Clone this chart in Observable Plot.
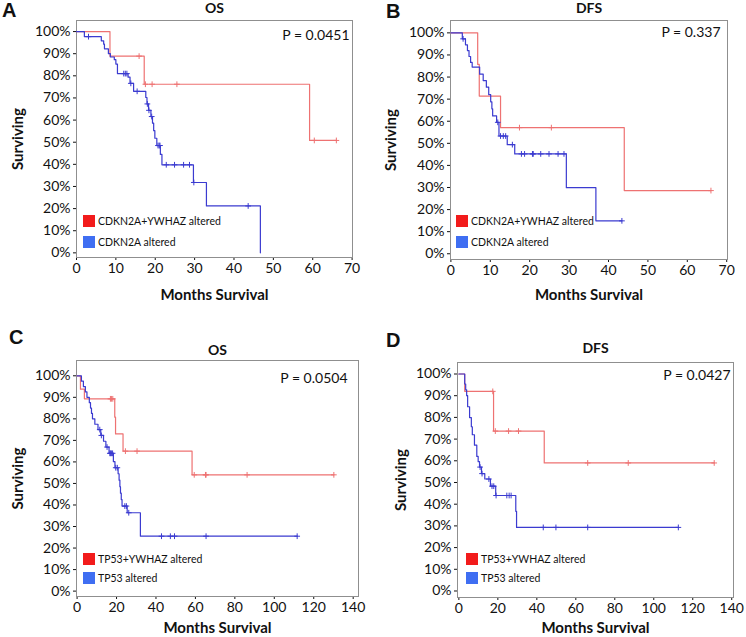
<!DOCTYPE html>
<html><head><meta charset="utf-8">
<script src="https://cdn.jsdelivr.net/npm/d3@7"></script>
<script src="https://cdn.jsdelivr.net/npm/@observablehq/plot@0.6"></script>
<style>
body{margin:0;background:#fff;}
#fig{position:relative;width:746px;height:637px;font-family:Lato,sans-serif;color:#111;overflow:hidden;}
.panel{position:absolute;}
.letter{position:absolute;font:bold 20px "Liberation Sans",Arial,sans-serif;line-height:20px;}
.sw{position:absolute;width:12px;height:12px;}
.lt{position:absolute;font:10.5px Lato,sans-serif;line-height:12px;white-space:nowrap;}
</style></head><body><div id="fig"></div>
<script>
// ---------- data ----------
const yTicks = [0,10,20,30,40,50,60,70,80,90,100];
const xTicks70 = [0,10,20,30,40,50,60,70];
const xTicks140 = [0,20,40,60,80,100,120,140];

// Panel A: OS, CDKN2A
const aRedT = [0, 8.5, 17.2, 59.2];
const aRedS = [100, 88.9, 76.2, 50.8];
const aRedC = [15.9, 17.5, 19.2, 25.5, 60.4, 66.0];
const aBlueT = [0, 2.0, 6.3, 6.9, 7.1, 8.1, 8.6, 9.6, 10.0, 10.4, 13.1, 13.6, 14.5, 17.6, 17.9, 18.3, 18.9, 19.3, 19.6, 19.9, 20.4, 21.3, 21.7, 29.7, 33.0, 46.7];
const aBlueS = [100, 97.7, 95.8, 94.3, 92.2, 90.0, 88.5, 87.3, 85.3, 81.0, 79.4, 76.6, 73.0, 70.2, 67.3, 64.4, 61.6, 58.6, 55.2, 51.8, 48.5, 44.5, 39.8, 31.8, 21.2, 0];
const aBlueC = [3.05, 12.0, 12.4, 12.8, 13.8, 15.4, 18.0, 18.4, 19.1, 20.7, 21.0, 21.2, 22.8, 24.9, 27.2, 28.7, 29.8, 43.6];

// Panel B: DFS, CDKN2A
const bRedT = [0, 6.8, 7.2, 12.6, 44.0];
const bRedS = [100, 85.7, 71.4, 57.1, 28.6];
const bRedC = [17.4, 25.5, 66.0];
const bBlueT = [0, 2.9, 3.7, 4.2, 4.6, 5.0, 5.4, 7.3, 8.2, 9.0, 9.6, 10.1, 10.4, 10.6, 11.6, 12.2, 14.3, 16.2, 29.3, 36.8];
const bBlueS = [100, 97.3, 94.6, 92.0, 89.3, 86.6, 84.5, 81.3, 78.4, 75.4, 72.0, 68.8, 65.6, 62.4, 59.5, 53.3, 49.4, 45.2, 29.9, 14.9];
const bBlueC = [3.1, 11.9, 12.6, 13.3, 13.9, 15.6, 17.9, 18.7, 20.7, 20.9, 22.8, 24.9, 27.2, 28.7, 43.4];

// Panel C: OS, TP53
const cRedT = [0, 1.7, 3.7, 19.1, 19.5, 23.3, 58.3];
const cRedS = [100, 93.8, 89.3, 80.8, 73.0, 65.0, 54.0];
const cRedC = [16.9, 17.4, 18.1, 24.5, 30.4, 59.4, 65.1, 65.4, 86.2, 130.2];
const cBlueT = [0, 2.2, 3.2, 4.2, 5.0, 6.2, 6.8, 7.3, 7.8, 9.0, 10.6, 12.0, 13.4, 14.6, 16.2, 18.4, 19.2, 20.8, 21.3, 21.7, 22.0, 22.4, 22.8, 25.4, 32.1];
const cBlueS = [100, 97.5, 95.0, 92.5, 90.0, 87.5, 85.0, 82.5, 80.0, 77.5, 75.0, 72.3, 69.6, 66.9, 64.0, 60.1, 57.3, 54.5, 51.5, 48.5, 45.5, 42.5, 39.5, 36.4, 25.5];
const cBlueC = [11.5, 12.3, 15.2, 16.6, 17.0, 17.4, 18.0, 19.6, 20.4, 24.2, 25.0, 26.2, 42.8, 47.3, 49.4, 65.4, 111.6];

// Panel D: DFS, TP53
const dRedT = [0, 3.0, 17.8, 43.8];
const dRedS = [100, 92.0, 73.7, 59.0];
const dRedC = [17.4, 18.7, 25.5, 30.6, 66.1, 86.9, 131.0];
const dBlueT = [0, 3.0, 3.5, 4.0, 4.5, 5.5, 6.4, 6.9, 8.0, 9.2, 9.9, 10.6, 11.6, 13.3, 16.2, 18.9, 29.2, 29.6];
const dBlueS = [100, 95.4, 92.7, 90.0, 84.9, 79.9, 75.7, 72.0, 67.2, 62.0, 59.6, 57.1, 54.1, 51.6, 48.3, 44.0, 36.7, 29.3];
const dBlueC = [10.9, 11.9, 15.4, 17.0, 17.9, 19.1, 24.6, 25.8, 26.8, 43.3, 49.8, 66.1, 112.6];

const titles = ["OS", "DFS", "OS", "DFS"];
const letters = ["A", "B", "C", "D"];
const pValues = ["P = 0.0451", "P = 0.337", "P = 0.0504", "P = 0.0427"];
const legendA = ["CDKN2A+YWHAZ altered", "CDKN2A altered"];
const legendC = ["TP53+YWHAZ altered", "TP53 altered"];
const xLabel = "Months Survival";
const yLabel = "Surviving";

// ---------- layout ----------
const RED = "#ee7272", BLUE = "#3b3bd0";
const SW_RED = "#f21b1b", SW_BLUE = "#3f6ef2";
const layouts = [
  {left:0, top:0, w:373, h:318, mL:76, mR:21, mT:20, mB:61, xDom:[0,70.1], yDom:[-2.1,105], titleDy:-12, pDx:-3, pDy:15, survDx:-58, monthsDy:38, legX:83, legY:215, legGap:21, letX:2, letY:0},
  {left:373, top:0, w:373, h:318, mL:77, mR:19, mT:20, mB:59, xDom:[-0.1,70.2], yDom:[-2.6,105.6], titleDy:-12, pDx:-7, pDy:12, survDx:-59, monthsDy:36, legX:83, legY:215, legGap:20.7, letX:13, letY:1},
  {left:0, top:318, w:373, h:319, mL:76, mR:15, mT:42, mB:41, xDom:[-0.3,142.7], yDom:[-2.5,107.1], titleDy:-10, pDx:-11, pDy:18, survDx:-58, monthsDy:32, legX:83, legY:235, legGap:18.5, letX:9, letY:9},
  {left:373, top:318, w:373, h:319, mL:84, mR:13, mT:44, mB:40, xDom:[-0.7,140.9], yDom:[-3.0,105.3], titleDy:-14, pDx:-3, pDy:13, survDx:-56, monthsDy:31, legX:93, legY:235, legGap:19, letX:13, letY:12}
];
const panelsData = [
  {rT:aRedT, rS:aRedS, rC:aRedC, bT:aBlueT, bS:aBlueS, bC:aBlueC, xt:xTicks70, leg:legendA},
  {rT:bRedT, rS:bRedS, rC:bRedC, bT:bBlueT, bS:bBlueS, bC:bBlueC, xt:xTicks70, leg:legendA},
  {rT:cRedT, rS:cRedS, rC:cRedC, bT:cBlueT, bS:cBlueS, bC:cBlueC, xt:xTicks140, leg:legendC},
  {rT:dRedT, rS:dRedS, rC:dRedC, bT:dBlueT, bS:dBlueS, bC:dBlueC, xt:xTicks140, leg:legendC}
];

function survAt(T, S, t) { let v = S[0]; for (let i = 0; i < T.length; i++) if (T[i] <= t) v = S[i]; return v; }
function stepPts(T, S, C) {
  const pts = T.map((t, i) => ({t, s: S[i]}));
  const end = Math.max(T[T.length - 1], ...C);
  if (end > T[T.length - 1]) pts.push({t: end, s: S[S.length - 1]});
  return pts;
}
function censPts(T, S, C) { return C.map(t => ({t, s: survAt(T, S, t)})); }

const fig = document.getElementById("fig");
panelsData.forEach((d, i) => {
  const L = layouts[i];
  const div = document.createElement("div");
  div.className = "panel";
  div.style.left = L.left + "px"; div.style.top = L.top + "px";
  div.style.width = L.w + "px"; div.style.height = L.h + "px";
  const svg = Plot.plot({
    width: L.w, height: L.h,
    marginLeft: L.mL, marginRight: L.mR, marginTop: L.mT, marginBottom: L.mB,
    x: {domain: L.xDom, ticks: d.xt, tickSize: 3, tickPadding: 3, label: null},
    y: {domain: L.yDom, ticks: yTicks, tickFormat: v => v + "%", tickSize: 3, tickPadding: 3, label: null},
    style: {fontFamily: "Lato, sans-serif", fontSize: "14px", color: "#111", background: "transparent"},
    marks: [
      Plot.frame({stroke: "#8f8f8f"}),
      Plot.line(stepPts(d.rT, d.rS, d.rC), {x: "t", y: "s", curve: "step-after", stroke: RED, strokeWidth: 1.2}),
      Plot.line(stepPts(d.bT, d.bS, d.bC), {x: "t", y: "s", curve: "step-after", stroke: BLUE, strokeWidth: 1.2}),
      Plot.dot(censPts(d.rT, d.rS, d.rC), {x: "t", y: "s", symbol: "plus", r: 2, stroke: RED, strokeWidth: 1}),
      Plot.dot(censPts(d.bT, d.bS, d.bC), {x: "t", y: "s", symbol: "plus", r: 2, stroke: BLUE, strokeWidth: 1}),
      Plot.text([titles[i]], {text: v => v, frameAnchor: "top", dy: L.titleDy, lineAnchor: "middle", textAnchor: "middle", fontWeight: "bold", fontSize: 14}),
      Plot.text([pValues[i]], {text: v => v, frameAnchor: "top-right", dx: L.pDx, dy: L.pDy, lineAnchor: "middle", textAnchor: "end", fontSize: 14}),
      Plot.text([yLabel], {text: v => v, frameAnchor: "left", dx: L.survDx, rotate: -90, lineAnchor: "middle", textAnchor: "middle", fontWeight: "bold", fontSize: 15}),
      Plot.text([xLabel], {text: v => v, frameAnchor: "bottom", dy: L.monthsDy, lineAnchor: "middle", textAnchor: "middle", fontWeight: "bold", fontSize: 15})
    ]
  });
  svg.style.position = "absolute"; svg.style.left = "0"; svg.style.top = "0";
  div.appendChild(svg);
  const letter = document.createElement("div");
  letter.className = "letter"; letter.textContent = letters[i];
  letter.style.left = L.letX + "px"; letter.style.top = L.letY + "px";
  div.appendChild(letter);
  [SW_RED, SW_BLUE].forEach((c, k) => {
    const sw = document.createElement("div");
    sw.className = "sw"; sw.style.background = c;
    sw.style.left = L.legX + "px"; sw.style.top = (L.legY + k * L.legGap) + "px";
    div.appendChild(sw);
    const t = document.createElement("div");
    t.className = "lt"; t.textContent = d.leg[k];
    t.style.left = (L.legX + 15) + "px"; t.style.top = (L.legY + k * L.legGap) + "px";
    div.appendChild(t);
  });
  fig.appendChild(div);
});
</script></body></html>
